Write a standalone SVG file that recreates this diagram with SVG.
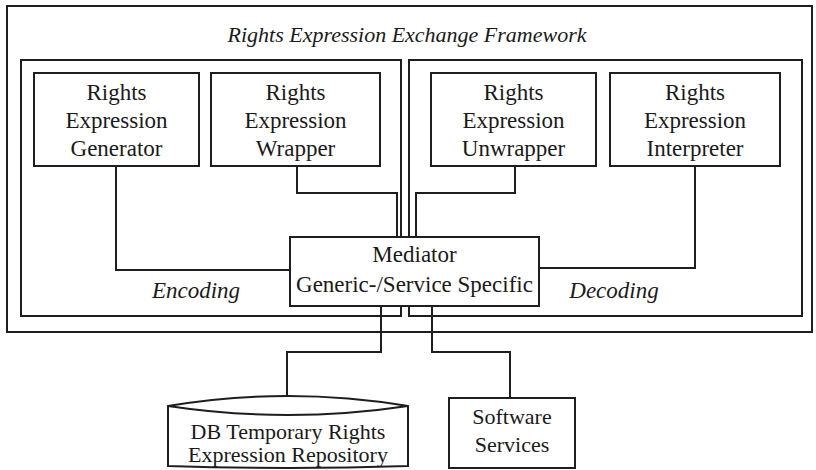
<svg xmlns="http://www.w3.org/2000/svg" width="816" height="470" viewBox="0 0 816 470">
  <style>
    .box { fill: #ffffff; stroke: #1e1e1e; stroke-width: 2; }
    .frame { fill: none; stroke: #1e1e1e; stroke-width: 2; }
    .conn { fill: none; stroke: #1e1e1e; stroke-width: 2; }
    .t { font-family: "Liberation Serif", "Times New Roman", serif; font-size: 23px; fill: #1a1a1a; text-anchor: middle; }
    .ti { font-family: "Liberation Serif", "Times New Roman", serif; font-size: 22px; font-style: italic; fill: #1a1a1a; text-anchor: middle; }
    .tl { font-family: "Liberation Serif", "Times New Roman", serif; font-size: 23px; font-style: italic; fill: #1a1a1a; text-anchor: middle; }
  </style>
  <rect width="816" height="470" fill="#ffffff"/>

  <g id="framework">
    <rect class="frame" x="7" y="6" width="805" height="326"/>
    <text class="ti" x="407" y="42">Rights Expression Exchange Framework</text>
  </g>

  <g id="encoding">
    <rect class="frame" x="21" y="60" width="380" height="256"/>
    <text class="tl" x="196" y="298">Encoding</text>
  </g>

  <g id="decoding">
    <rect class="frame" x="409" y="60" width="393" height="256"/>
    <text class="tl" x="614" y="298">Decoding</text>
  </g>

  <g id="connectors">
    <polyline class="conn" points="116,166 116,270 290,270"/>
    <polyline class="conn" points="297,166 297,193 397,193 397,237"/>
    <polyline class="conn" points="515,166 515,193 416,193 416,237"/>
    <polyline class="conn" points="695,166 695,268 539,268"/>
    <polyline class="conn" points="381,306 381,352 287,352 287,404"/>
    <polyline class="conn" points="432,306 432,352 510,352 510,398"/>
  </g>

  <g id="generator">
    <rect class="box" x="34" y="73" width="165" height="93"/>
    <text class="t" x="116.5" y="100">Rights</text>
    <text class="t" x="116.5" y="128">Expression</text>
    <text class="t" x="116.5" y="156">Generator</text>
  </g>

  <g id="wrapper">
    <rect class="box" x="211" y="73" width="169" height="93"/>
    <text class="t" x="295.5" y="100">Rights</text>
    <text class="t" x="295.5" y="128">Expression</text>
    <text class="t" x="295.5" y="156">Wrapper</text>
  </g>

  <g id="unwrapper">
    <rect class="box" x="431" y="73" width="165" height="93"/>
    <text class="t" x="513.5" y="100">Rights</text>
    <text class="t" x="513.5" y="128">Expression</text>
    <text class="t" x="513.5" y="156">Unwrapper</text>
  </g>

  <g id="interpreter">
    <rect class="box" x="610" y="73" width="170" height="93"/>
    <text class="t" x="695" y="100">Rights</text>
    <text class="t" x="695" y="128">Expression</text>
    <text class="t" x="695" y="156">Interpreter</text>
  </g>

  <g id="mediator">
    <rect class="box" x="290" y="237" width="249" height="69"/>
    <text class="t" x="414.5" y="262">Mediator</text>
    <text class="t" x="414.5" y="292">Generic-/Service Specific</text>
  </g>

  <g id="repository">
    <path class="box" d="M168,406 Q288,386 408,406 L408,466 Q288,470 168,466 Z"/>
    <path class="conn" d="M168,406 Q288,424 408,406"/>
    <text class="t" x="288" y="439" style="font-size:22px">DB Temporary Rights</text>
    <text class="t" x="288" y="462" style="font-size:22px">Expression Repository</text>
  </g>

  <g id="software">
    <rect class="box" x="449" y="398" width="126" height="70"/>
    <text class="t" x="512" y="424" style="font-size:22px">Software</text>
    <text class="t" x="512" y="452" style="font-size:22px">Services</text>
  </g>
</svg>
